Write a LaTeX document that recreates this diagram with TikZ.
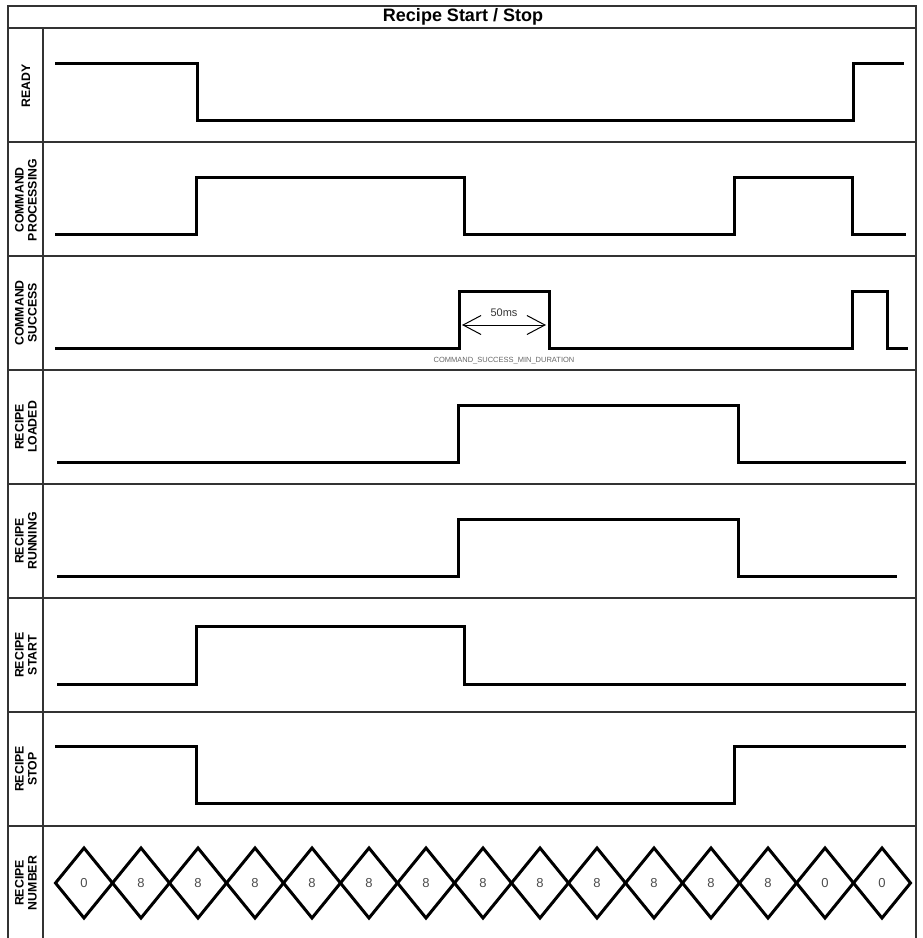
\documentclass[tikz,border=0pt]{standalone}
\usepackage{fontspec}
\setmainfont{Liberation Sans}
\usetikzlibrary{arrows.meta}

\begin{document}
\begin{tikzpicture}[x=1pt,y=-1pt,>={Straight Barb[length=18pt,width=19pt]},
  grid line/.style={black!80,line width=1.3pt},
  wave/.style={line width=3pt,line join=miter},
  sig/.style={rotate=90,align=center,font=\bfseries\fontsize{12.3}{13}\selectfont},
  val/.style={font=\fontsize{13}{15}\selectfont,text=black!70}]
\useasboundingbox (0,0) rectangle (923,938);
% table frame
\draw[grid line] (8,950) -- (8,6) -- (916,6) -- (916,950);
\draw[grid line] (8,28) -- (916,28);
\draw[grid line] (43,28) -- (43,950);
\foreach \y in {142,256,370,484,598,712,826}
  \draw[grid line] (8,\y) -- (916,\y);
\node[font=\bfseries\fontsize{18}{20}\selectfont] (title) at (463,17) {Recipe Start / Stop};
% signal names
\foreach \t/\y [count=\i] in {READY/86,{COMMAND\\PROCESSING}/200,{COMMAND\\SUCCESS}/313,
    {RECIPE\\LOADED}/427,{RECIPE\\RUNNING}/541,{RECIPE\\START}/655,{RECIPE\\STOP}/769,
    {RECIPE\\NUMBER}/883}
  \node[sig] (lbl\i) at (26,\y) {\t};
% waveforms
\draw[wave] (55,63) -- (197,63) -- (197,120) -- (853,120) -- (853,63) -- (904,63);
\draw[wave] (55,234) -- (196,234) -- (196,177) -- (464,177) -- (464,234) -- (734,234)
  -- (734,177) -- (852,177) -- (852,234) -- (906,234);
\draw[wave] (55,348) -- (459,348) -- (459,291) -- (549,291) -- (549,348) -- (852,348)
  -- (852,291) -- (887,291) -- (887,348) -- (908,348);
\draw[wave] (57,462) -- (458,462) -- (458,405) -- (738,405) -- (738,462) -- (906,462);
\draw[wave] (57,576) -- (458,576) -- (458,519) -- (738,519) -- (738,576) -- (897,576);
\draw[wave] (57,684) -- (196,684) -- (196,626) -- (464,626) -- (464,684) -- (906,684);
\draw[wave] (55,746) -- (196,746) -- (196,803) -- (734,803) -- (734,746) -- (906,746);
% min duration
\coordinate (durL) at (462,325);
\coordinate (durR) at (546,325);
\draw[<->,line width=1pt] (durL) -- (durR);
\node[font=\fontsize{11}{13}\selectfont,text=black!80] (dur) at (504,313) {50ms};
\node[font=\fontsize{7.5}{9}\selectfont,text=black!60] (durname) at (504,361) {COMMAND\_SUCCESS\_MIN\_DURATION};
% recipe number
\foreach \v [count=\i from 0] in {0,8,8,8,8,8,8,8,8,8,8,8,8,0,0} {
  \pgfmathsetmacro\cx{84+57*\i}
  \draw[wave] (\cx-28.5,883) -- (\cx,848) -- (\cx+28.5,883) -- (\cx,918) -- cycle;
  \node[val] (num\i) at (\cx,883) {\v};
}
\end{tikzpicture}
\end{document}
